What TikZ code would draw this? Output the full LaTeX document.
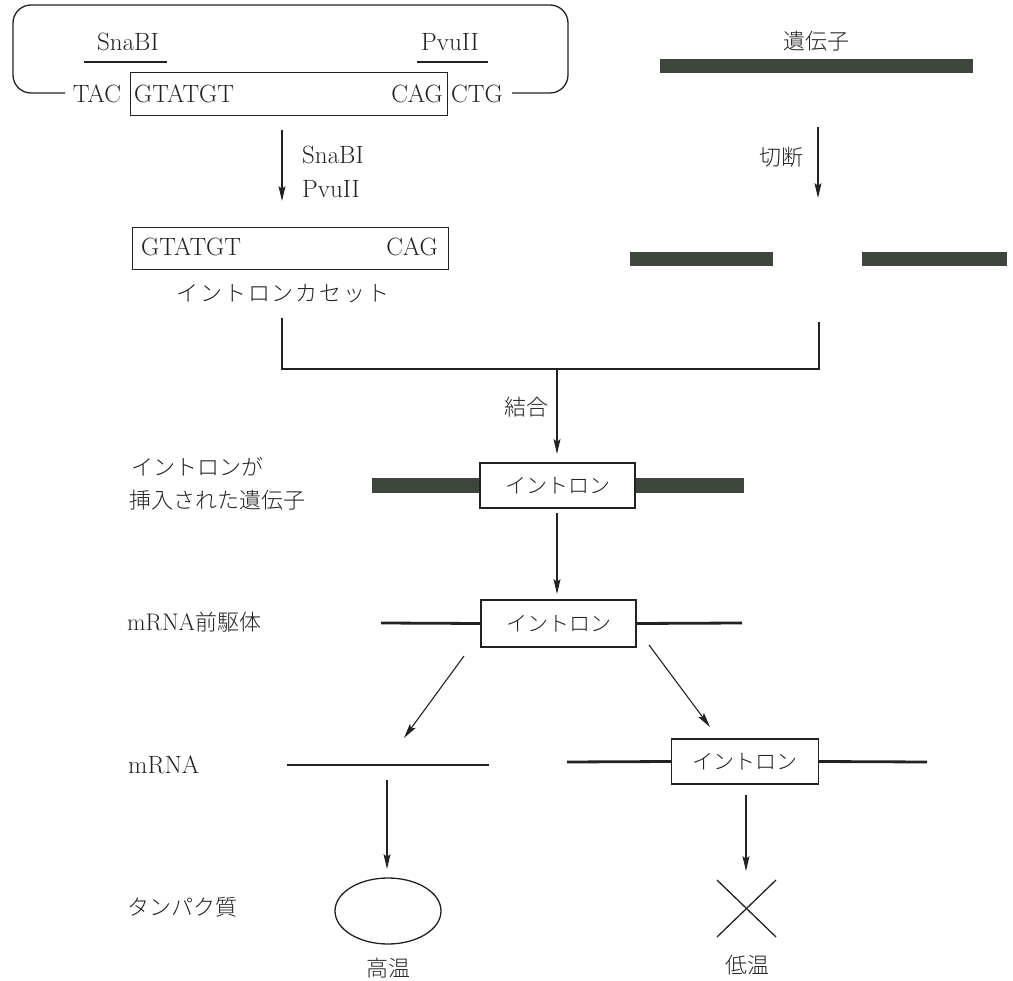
\documentclass[tikz,border=0pt]{standalone}
\usepackage{fontspec}
\newfontfamily\jp{Noto Sans CJK JP}[UprightFont={* Light}]
\newfontfamily\jpw{Noto Sans CJK JP}[UprightFont={* Light},LetterSpace=8]
\usetikzlibrary{arrows.meta,shapes.geometric}
\definecolor{gene}{HTML}{3E453C}
\definecolor{ink}{HTML}{222222}
\begin{document}
\begin{tikzpicture}[x=1pt,y=-1pt,
  ln/.style={line width=1.3pt, draw=ink},
  arr/.style={line width=1.1pt, draw=ink, -{Stealth[length=15pt,width=7pt,inset=3pt]}},
  lat/.style={font=\fontsize{25}{29}\selectfont, inner sep=0pt, text=ink},
  jpt/.style={font=\jp\fontsize{22}{26}\selectfont, inner sep=0pt, text=ink},
  bar/.style={fill=gene, draw=none, inner sep=0pt},
  ibox/.style={draw=ink, line width=1.3pt, inner sep=0pt, font=\jp\fontsize{21}{25}\selectfont, text=ink},
  rna/.style={line width=2.8pt, draw=ink},
  seqbox/.style={draw=ink, line width=1.3pt, inner sep=0pt, anchor=north west}
]
\useasboundingbox (0,0) rectangle (1013,981);

% plasmid
\draw[ln, rounded corners=18] (65,93) -- (13,93) -- (13,5) -- (568,5) -- (568,93) -- (512,93);
\node[lat, anchor=base] (snabi) at (128,51) {SnaBI};
\draw[ln] (84,62) -- (167,62);
\node[lat, anchor=base] (pvu) at (450,51) {PvuII};
\draw[ln] (417,62) -- (488,62);
\node[lat, anchor=base] (tac) at (97,103) {TAC};
\node[seqbox, minimum width=317, minimum height=43] (ins) at (130,72) {};
\node[lat, anchor=base west] (g1) at (134,103) {GTATGT};
\node[lat, anchor=base east] (c1) at (443,103) {CAG};
\node[lat, anchor=base west] (ctg) at (451,103) {CTG};

% gene
\node[jpt] (gene) at (816,41) {遺伝子};
\node[bar, minimum width=313, minimum height=14, anchor=north west] (genebar) at (660,59) {};

% cut arrows
\coordinate (a1s) at (282,130); \coordinate (a1e) at (282,201);
\draw[arr] (a1s) -- (a1e);
\node[lat, anchor=base west] (e1) at (302,164) {SnaBI};
\node[lat, anchor=base west] (e2) at (302,198) {PvuII};
\coordinate (a2s) at (818,127); \coordinate (a2e) at (818,198);
\draw[arr] (a2s) -- (a2e);
\node[jpt] (cut) at (781,157) {切断};

% cassette
\node[seqbox, minimum width=316, minimum height=42] (cas) at (132,227) {};
\node[lat, anchor=base west] (g2) at (141,256) {GTATGT};
\node[lat, anchor=base east] (c2) at (438,256) {CAG};
\node[font=\jpw\fontsize{22}{26}\selectfont, inner sep=0pt, text=ink] (caslab) at (283,294) {イントロンカセット};

% gene fragments
\node[bar, minimum width=143, minimum height=14, anchor=north west] (frag1) at (630,252) {};
\node[bar, minimum width=145, minimum height=14, anchor=north west] (frag2) at (862,252) {};

% join
\coordinate (j1) at (282,318); \coordinate (j2) at (282,369);
\coordinate (j3) at (819,369); \coordinate (j4) at (819,322);
\draw[ln] (j1) -- (j2) -- (j3) -- (j4);
\coordinate (js) at (557,369); \coordinate (je) at (557,454);
\draw[arr] (js) -- (je);
\node[jpt] (join) at (526,407) {結合};

% intron inserted gene
\node[jpt, anchor=west] (lab1a) at (131,467) {イントロンが};
\node[jpt, anchor=west] (lab1b) at (129,500) {挿入された遺伝子};
\node[ibox, minimum width=155, minimum height=45] (ib1) at (557.5,485.5) {イントロン};
\node[bar, minimum width=107, minimum height=15, anchor=east] (b1l) at (ib1.west) {};
\node[bar, minimum width=108, minimum height=15, anchor=west] (b1r) at (ib1.east) {};

\coordinate (k1) at (557,513); \coordinate (k2) at (557,594);
\draw[arr] (k1) -- (k2);

% pre-mRNA
\node[jpt, anchor=west] (lab2) at (127,622) {\rmfamily\fontsize{24}{28}\selectfont mRNA\jp\fontsize{22}{26}\selectfont 前駆体};
\node[ibox, minimum width=155, minimum height=47] (ib2) at (558.5,623.5) {イントロン};
\coordinate (p1) at (381,623); \coordinate (p2) at (742,623);
\draw[rna] (p1) -- (ib2.west);
\draw[rna] (ib2.east) -- (p2);

\coordinate (d1s) at (464,656); \coordinate (d1e) at (404,738);
\draw[arr] (d1s) -- (d1e);
\coordinate (d2s) at (649,645); \coordinate (d2e) at (710,727);
\draw[arr] (d2s) -- (d2e);

% mRNA
\node[lat, anchor=west] (lab3) at (128,765) {mRNA};
\coordinate (m1) at (287,765); \coordinate (m2) at (489,765);
\draw[rna] (m1) -- (m2);
\node[ibox, minimum width=147, minimum height=45] (ib3) at (745,761.5) {イントロン};
\coordinate (r1) at (567,762); \coordinate (r2) at (927,762);
\draw[rna] (r1) -- (ib3.west);
\draw[rna] (ib3.east) -- (r2);

\coordinate (v1s) at (387,780); \coordinate (v1e) at (387,869);
\draw[arr] (v1s) -- (v1e);
\coordinate (v2s) at (746,795); \coordinate (v2e) at (746,871);
\draw[arr] (v2s) -- (v2e);

% protein
\node[jpt, anchor=west] (lab4) at (127,907) {タンパク質};
\node[draw=ink, line width=1.3pt, ellipse, minimum width=106, minimum height=66, inner sep=0pt] (prot) at (388,911) {};
\coordinate (x1) at (717,880); \coordinate (x2) at (776,937);
\coordinate (x3) at (776,880); \coordinate (x4) at (717,937);
\draw[ln] (x1) -- (x2);
\draw[ln] (x3) -- (x4);
\node[jpt] (hot) at (388,968) {高温};
\node[jpt] (cold) at (747,965) {低温};
\end{tikzpicture}
\end{document}
